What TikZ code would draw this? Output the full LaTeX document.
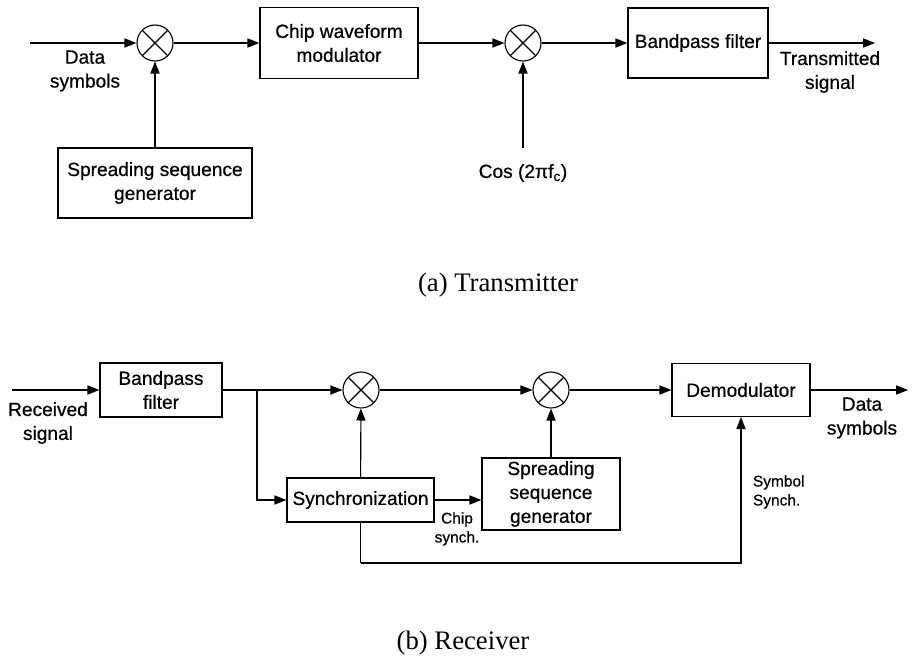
\documentclass[tikz,border=0pt]{standalone}
\usepackage{fontspec}
\setmainfont{Liberation Sans}[FakeBold=0.6]
\newfontfamily\captionfont{Liberation Serif}
\usetikzlibrary{arrows.meta, positioning}

\begin{document}
\begin{tikzpicture}[
  block/.style={draw, line width=0.8pt, align=center, inner sep=2pt, font=\fontsize{13.6}{17}\selectfont},
  mixer/.style={draw, circle, line width=0.8pt, minimum size=0.9cm, inner sep=0pt,
    path picture={\draw[line width=0.8pt] (path picture bounding box.north west) -- (path picture bounding box.south east)
      (path picture bounding box.north east) -- (path picture bounding box.south west);}},
  label/.style={align=center, font=\fontsize{13.6}{17}\selectfont},
  smalllabel/.style={align=left, font=\fontsize{11}{13.5}\selectfont},
  caption/.style={font=\captionfont\fontsize{19}{22}\selectfont},
  arrow/.style={-{Triangle[length=8.5pt, width=6.5pt]}, line width=0.8pt},
  line/.style={line width=0.8pt}
]
\useasboundingbox (0,0) rectangle (22.8,-16.525);

% ---------------- (a) Transmitter ----------------
\coordinate (datain) at (0.75,-1.075);
\node[mixer] (mixa) at (3.875,-1.075) {};
\node[label] (datalbl) at (2.125,-1.775) {Data\\symbols};
\node[block, minimum width=4.85cm, minimum height=1.75cm] (spreada) at (3.875,-4.575) {Spreading sequence\\generator};
\node[block, minimum width=3.95cm, minimum height=1.775cm] (chipmod) at (8.475,-1.075) {Chip waveform\\modulator};
\node[mixer] (mixb) at (13.075,-1.075) {};
\coordinate (cosin) at (13.075,-3.7);
\node[label] (coslbl) at (13.075,-4.325) {Cos (2πf\textsubscript{c})};
\node[block, minimum width=3.5cm, minimum height=1.75cm] (bpfa) at (17.45,-1.075) {Bandpass filter};
\coordinate (txout) at (21.875,-1.075);
\node[label] (txlbl) at (20.75,-1.8) {Transmitted\\signal};

\draw[arrow] (datain) -- (mixa);
\draw[arrow] (spreada) -- (mixa);
\draw[arrow] (mixa) -- (chipmod);
\draw[arrow] (chipmod) -- (mixb);
\draw[arrow] (cosin) -- (mixb);
\draw[arrow] (mixb) -- (bpfa);
\draw[arrow] (bpfa) -- (txout);

\node[caption] (capa) at (12.45,-7.125) {(a) Transmitter};

% ---------------- (b) Receiver ----------------
\coordinate (rxin) at (0.3,-9.75);
\node[label] (rxlbl) at (1.2,-10.575) {Received\\signal};
\node[block, minimum width=3.05cm, minimum height=1.35cm] (bpfb) at (4.025,-9.75) {Bandpass\\filter};
\coordinate (branch) at (6.425,-9.75);
\node[mixer] (mixc) at (9.025,-9.75) {};
\node[mixer] (mixd) at (13.775,-9.75) {};
\node[block, minimum width=3.45cm, minimum height=1.325cm] (demod) at (18.525,-9.75) {Demodulator};
\coordinate (rxout) at (22.7,-9.75);
\node[label] (outlbl) at (21.55,-10.45) {Data\\symbols};

\node[block, minimum width=3.675cm, minimum height=1.1cm] (sync) at (9.0125,-12.5) {Synchronization};
\node[block, minimum width=3.45cm, minimum height=1.8cm] (spreadb) at (13.775,-12.35) {Spreading\\sequence\\generator};
\node[smalllabel, align=center] (chiplbl) at (11.425,-13.225) {Chip\\synch.};
\node[smalllabel, anchor=west] (symlbl) at (18.7,-12.3) {Symbol\\Synch.};
\coordinate (fbturn) at (9.0125,-14.075);

\draw[arrow] (rxin) -- (bpfb);
\draw[arrow] (bpfb) -- (mixc);
\draw[arrow] (branch) |- (sync);
\draw[arrow] (sync) -- (mixc);
\draw[arrow] (mixc) -- (mixd);
\draw[arrow] (sync.east) -- (sync.east -| spreadb.west);
\draw[arrow] (spreadb) -- (mixd);
\draw[arrow] (mixd) -- (demod);
\draw[arrow] (demod) -- (rxout);
\draw[line] (sync) -- (fbturn);
\draw[arrow] (fbturn) -| (demod);

\node[caption] (capb) at (11.575,-16.075) {(b) Receiver};

\end{tikzpicture}
\end{document}
